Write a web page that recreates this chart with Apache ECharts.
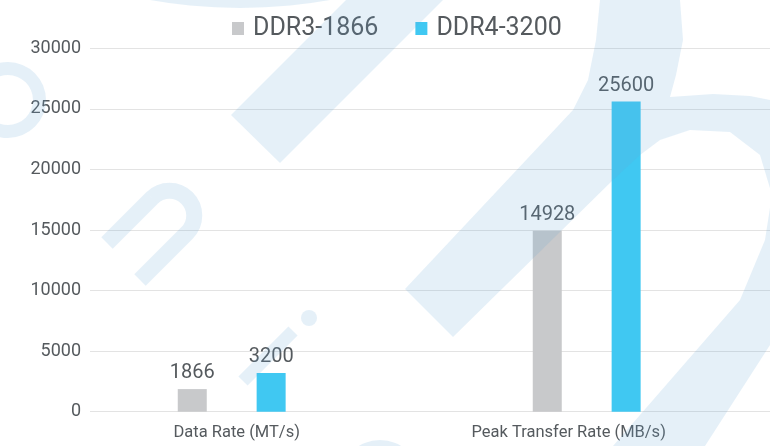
<!DOCTYPE html>
<html>
<head>
<meta charset="utf-8">
<script src="https://cdn.jsdelivr.net/npm/echarts@6/dist/echarts.min.js"></script>
<style>html,body{margin:0;padding:0;background:#fff}#c{width:770px;height:446px}</style>
</head>
<body>
<div id="c"></div>
<script>
const categories = ['Data Rate (MT/s)', 'Peak Transfer Rate (MB/s)'];
const seriesNames = ['DDR3-1866', 'DDR4-3200'];
const ddr3Values = [1866, 14928];
const ddr4Values = [3200, 25600];
const yMin = 0, yMax = 30000, yStep = 5000;

const FONT = 'Roboto';
const TXT = '#555a5e';
const WM = 'rgba(100,165,215,0.17)';

function wm(el) { el.z = 100; el.silent = true; return el; }

const chart = echarts.init(document.getElementById('c'));
chart.setOption({
  backgroundColor: '#fff',
  animation: false,
  textStyle: { fontFamily: FONT },
  legend: {
    left: 227, top: 11,
    itemWidth: 12, itemHeight: 13, itemGap: 37,
    icon: 'rect',
    textStyle: { fontSize: 25, color: TXT, fontFamily: FONT, padding: [0, 0, 0, 4] },
    data: seriesNames
  },
  grid: [
    { left: 90, right: 0, top: 48.3, bottom: 34.3 },
    { left: 54.2, right: 5.8, top: 48.3, bottom: 34.3 }
  ],
  xAxis: [
    { gridIndex: 0, type: 'value', show: false, min: 0, max: 1 },
    {
      gridIndex: 1, type: 'category', data: categories,
      axisLine: { show: false }, axisTick: { show: false },
      axisLabel: {
        margin: 13, fontSize: 16.5, color: TXT, fontFamily: FONT,
        formatter: (v, i) => (i === 0 ? '{a|' + v + '}' : '{b|' + v + '}'),
        rich: {
          a: { fontSize: 16.5, color: TXT, fontFamily: FONT, padding: [0, 0, 0, 10] },
          b: { fontSize: 16.5, color: TXT, fontFamily: FONT, padding: [0, 36, 0, 0] }
        }
      }
    }
  ],
  yAxis: [
    {
      gridIndex: 0, type: 'value', min: yMin, max: yMax, interval: yStep,
      axisLine: { show: false }, axisTick: { show: false },
      axisLabel: { margin: 9, fontSize: 18, color: TXT, fontFamily: FONT, formatter: v => String(v) },
      splitLine: { lineStyle: { color: '#e3e3e3', width: 1 } }
    },
    { gridIndex: 1, type: 'value', min: yMin, max: yMax, interval: yStep, show: false, splitLine: { show: false } }
  ],
  series: [
    {
      name: seriesNames[0], type: 'bar', xAxisIndex: 1, yAxisIndex: 1,
      data: ddr3Values, barWidth: 29, barGap: '172%',
      itemStyle: { color: '#c8c9cb' },
      label: { show: true, position: 'top', distance: 6, fontSize: 20, color: TXT, fontFamily: FONT }
    },
    {
      name: seriesNames[1], type: 'bar', xAxisIndex: 1, yAxisIndex: 1,
      data: ddr4Values, barWidth: 29, barGap: '172%',
      itemStyle: { color: '#40c8f2' },
      label: { show: true, position: 'top', distance: 6, fontSize: 20, color: TXT, fontFamily: FONT }
    }
  ],
  graphic: [
    wm({ type: 'polygon', shape: { points: [
      [405,289],[573,110],[588,80],[596,40],[600,0],
      [680,0],[683,40],[676,75],[670,97],
      [713,94],[750,96],[770,100],[800,110],[830,160],[835,230],[815,290],[770,345],
      [705,446],[613,446],
      [740,300],[765,240],[772,195],[760,155],[730,132],[690,130],[660,140],[640,155],[613,180],
      [453,337]
    ] }, style: { fill: WM } }),
    wm({ type: 'polygon', shape: { points: [[231,115],[280,163],[443,0],[346,0]] }, style: { fill: WM } }),
    wm({ type: 'ring', shape: { cx: 8, cy: 100, r: 38, r0: 25 }, style: { fill: WM } }),
    wm({ type: 'polyline', shape: { points: [[107,243],[152,198]] }, style: { fill: null, stroke: WM, lineWidth: 16 } }),
    wm({ type: 'arc', shape: { cx: 169.5, cy: 215.5, r: 24.75, startAngle: -Math.PI * 0.75, endAngle: Math.PI * 0.25, clockwise: true }, style: { fill: null, stroke: WM, lineWidth: 16 } }),
    wm({ type: 'polyline', shape: { points: [[187,233],[140,280]] }, style: { fill: null, stroke: WM, lineWidth: 16 } }),
    wm({ type: 'line', shape: { x1: 243, y1: 381, x2: 293, y2: 331 }, style: { stroke: WM, lineWidth: 13 } }),
    wm({ type: 'circle', shape: { cx: 309, cy: 318, r: 8 }, style: { fill: WM } }),
    wm({ type: 'circle', shape: { cx: 240, cy: -502, r: 510 }, style: { fill: WM } }),
    wm({ type: 'circle', shape: { cx: 380, cy: 480, r: 40 }, style: { fill: WM } })
  ]
});
</script>
</body>
</html>
